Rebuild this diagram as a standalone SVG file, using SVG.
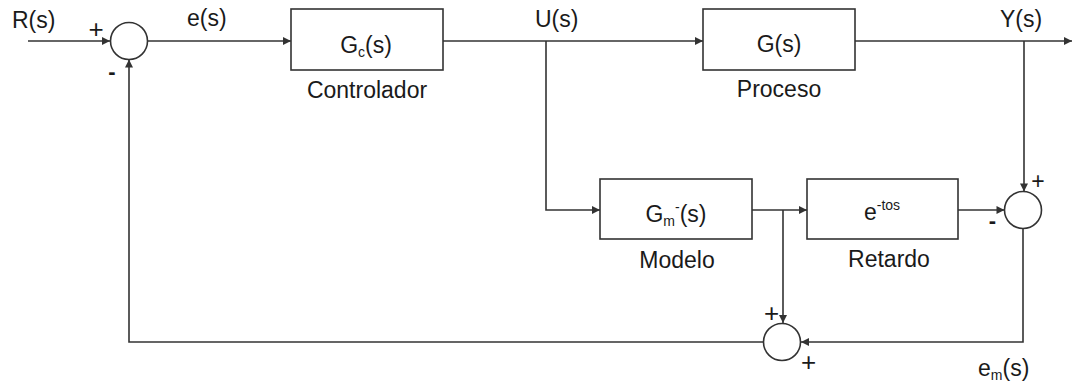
<svg xmlns="http://www.w3.org/2000/svg" width="1073" height="383" viewBox="0 0 1073 383">
  <style>
    .blk { fill: #ffffff; stroke: #333333; stroke-width: 1.6; }
    .sum { fill: #ffffff; stroke: #333333; stroke-width: 1.6; }
    .wire { fill: none; stroke: #333333; stroke-width: 1.6; }
    .lbl { font-family: "Liberation Sans", Arial, sans-serif; font-size: 23px; fill: #1a1a1a; }
    .sign { font-family: "Liberation Sans", Arial, sans-serif; fill: #1a1a1a; text-anchor: middle; }
    .minus { font-family: "Liberation Sans", Arial, sans-serif; font-size: 22px; font-weight: bold; fill: #1a1a1a; text-anchor: middle; }
  </style>
  <defs>
    <marker id="arr" viewBox="0 0 10 10" refX="10" refY="5" markerWidth="9" markerHeight="8" markerUnits="userSpaceOnUse" orient="auto">
      <path d="M0,0 L10,5 L0,10 z" fill="#333333"/>
    </marker>
  </defs>
  <rect width="1073" height="383" fill="#ffffff"/>

  <!-- connectors -->
  <g id="connectors">
    <path class="wire" d="M28,41 H110" marker-end="url(#arr)"/>
    <path class="wire" d="M147.5,41 H291" marker-end="url(#arr)"/>
    <path class="wire" d="M443,41 H703" marker-end="url(#arr)"/>
    <path class="wire" d="M546,41 V210 H600" marker-end="url(#arr)"/>
    <path class="wire" d="M855,41 H1072" marker-end="url(#arr)"/>
    <path class="wire" d="M1024,41 V191.5" marker-end="url(#arr)"/>
    <path class="wire" d="M752,210 H807" marker-end="url(#arr)"/>
    <path class="wire" d="M958,210 H1004.5" marker-end="url(#arr)"/>
    <path class="wire" d="M1023,228.5 V342 H801" marker-end="url(#arr)"/>
    <path class="wire" d="M783,210 V323" marker-end="url(#arr)"/>
    <path class="wire" d="M763,342 H129 V59.5" marker-end="url(#arr)"/>
  </g>

  <!-- signal labels -->
  <g id="signals">
    <text class="lbl" x="12" y="28">R(s)</text>
    <text class="lbl" x="187" y="26">e(s)</text>
    <text class="lbl" x="535" y="27">U(s)</text>
    <text class="lbl" x="1000" y="27">Y(s)</text>
    <text class="lbl" x="978" y="376">e<tspan font-size="14" dy="4">m</tspan><tspan dy="-4">(s)</tspan></text>
  </g>

  <!-- summing junction: reference minus feedback -->
  <g id="sum1">
    <circle class="sum" cx="129" cy="41" r="18.5"/>
    <text class="sign" x="96" y="38" font-size="26">+</text>
    <text class="minus" x="112" y="79">-</text>
  </g>

  <g id="controller">
    <rect class="blk" x="291" y="9" width="152" height="61"/>
    <text class="lbl" x="366" y="53" text-anchor="middle">G<tspan font-size="14" dy="4">c</tspan><tspan dy="-4">(s)</tspan></text>
    <text class="lbl" x="367" y="98" text-anchor="middle">Controlador</text>
  </g>

  <g id="process">
    <rect class="blk" x="703" y="9" width="152" height="61"/>
    <text class="lbl" x="779" y="52" text-anchor="middle">G(s)</text>
    <text class="lbl" x="779" y="97" text-anchor="middle">Proceso</text>
  </g>

  <g id="model">
    <rect class="blk" x="600" y="179" width="152" height="60"/>
    <text class="lbl" x="676" y="222" text-anchor="middle">G<tspan font-size="14" dy="4">m</tspan><tspan font-size="14" dy="-14">-</tspan><tspan dy="10">(s)</tspan></text>
    <text class="lbl" x="677" y="268" text-anchor="middle">Modelo</text>
  </g>

  <g id="delay">
    <rect class="blk" x="807" y="179" width="151" height="60"/>
    <text class="lbl" x="882" y="220" text-anchor="middle">e<tspan font-size="14" dy="-10">-tos</tspan></text>
    <text class="lbl" x="889" y="267" text-anchor="middle">Retardo</text>
  </g>

  <!-- summing junction: plant output minus delayed model -->
  <g id="sum2">
    <circle class="sum" cx="1023" cy="210" r="18.5"/>
    <text class="sign" x="1038" y="189" font-size="23">+</text>
    <text class="minus" x="992.5" y="228">-</text>
  </g>

  <!-- summing junction: model output plus model error -->
  <g id="sum3">
    <circle class="sum" cx="782" cy="342" r="18.5"/>
    <text class="sign" x="771.5" y="321.5" font-size="26">+</text>
    <text class="sign" x="808.5" y="370.5" font-size="26">+</text>
  </g>
</svg>
